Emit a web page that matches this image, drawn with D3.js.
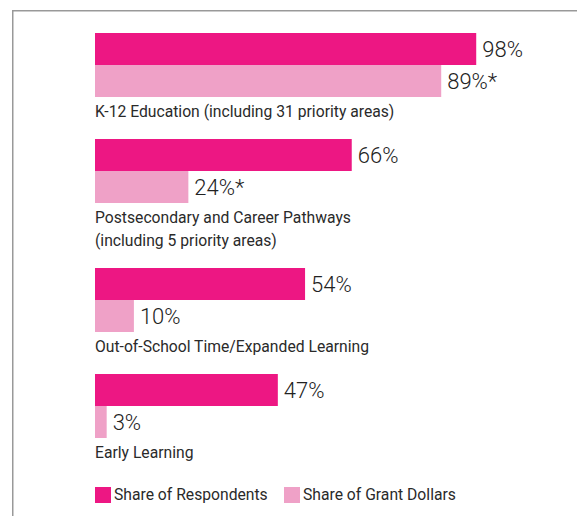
<!DOCTYPE html>
<html>
<head>
<meta charset="utf-8">
<script src="https://cdn.jsdelivr.net/npm/d3@7"></script>
<style>
html,body{margin:0;padding:0;background:#fff;}
svg{display:block;}
text{font-family:Roboto,"Noto Sans",sans-serif;}
</style>
</head>
<body>
<script>
const categories = [
  ["K-12 Education (including 31 priority areas)"],
  ["Postsecondary and Career Pathways", "(including 5 priority areas)"],
  ["Out-of-School Time/Expanded Learning"],
  ["Early Learning"]
];
const respondents = [98, 66, 54, 47];
const grantDollars = [89, 24, 10, 3];
const grantLabels = ["89%*", "24%*", "10%", "3%"];
const respLabels = ["98%", "66%", "54%", "47%"];
const seriesNames = ["Share of Respondents", "Share of Grant Dollars"];
const colors = ["#ED1783", "#EFA1C7"];

const W = 577, H = 516;
const svg = d3.select("body").append("svg").attr("width", W).attr("height", H);

// frame (left and top lines)
svg.append("path")
  .attr("d", `M12.75,${H} L12.75,10.75 L${W},10.75`)
  .attr("fill", "none").attr("stroke", "#999").attr("stroke-width", 1.5);

const x = d3.scaleLinear().domain([0, 100]).range([95, 484]);
const barH = 32, labelGap = 20, lineH = 23, groupGap = 22;

let groupTop = 33;
categories.forEach((lines, i) => {
  const g = svg.append("g");
  const vals = [respondents[i], grantDollars[i]];
  const labs = [respLabels[i], grantLabels[i]];
  vals.forEach((v, j) => {
    const y0 = groupTop + j * barH;
    g.append("rect")
      .attr("x", x(0)).attr("y", y0)
      .attr("width", x(v) - x(0)).attr("height", barH)
      .attr("fill", colors[j]);
    g.append("text")
      .attr("x", x(v) + 6).attr("y", y0 + barH / 2 + 8)
      .attr("font-size", 22).attr("font-weight", 300)
      .attr("fill", "#222").text(labs[j]);
  });
  const base = groupTop + 2 * barH + labelGap;
  lines.forEach((ln, k) => {
    g.append("text")
      .attr("x", x(0)).attr("y", base + k * lineH)
      .attr("font-size", 15.7).attr("fill", "#2a2a2a").text(ln);
  });
  groupTop = base + (lines.length - 1) * lineH + groupGap;
});

// legend
const legX = [95, 284];
seriesNames.forEach((n, j) => {
  svg.append("rect").attr("x", legX[j]).attr("y", 487).attr("width", 16).attr("height", 16).attr("fill", colors[j]);
  svg.append("text").attr("x", legX[j] + 19).attr("y", 500)
    .attr("font-size", 15.7).attr("fill", "#2a2a2a").text(n);
});
</script>
</body>
</html>
